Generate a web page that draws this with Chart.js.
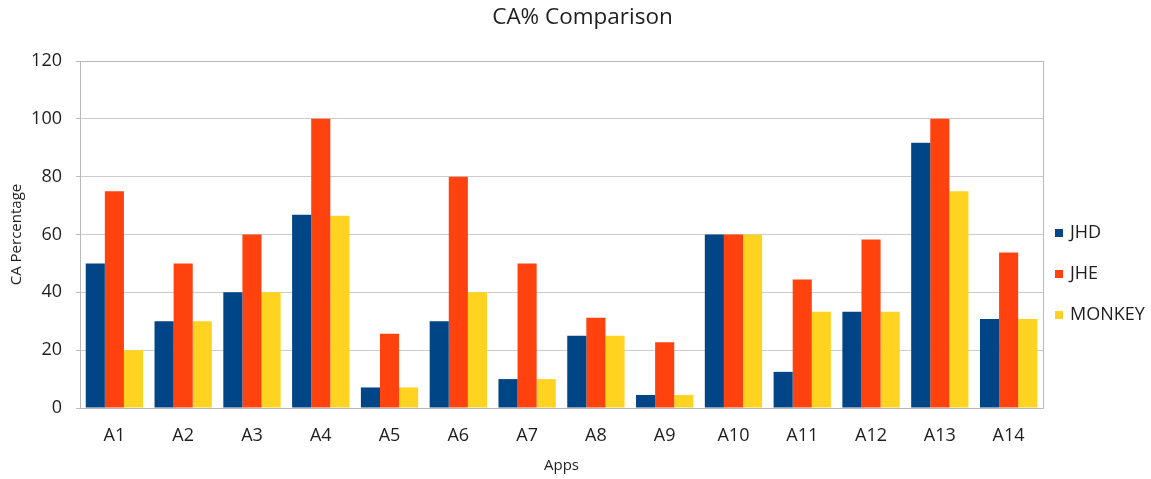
<!DOCTYPE html>
<html>
<head>
<meta charset="utf-8">
<title>CA% Comparison</title>
<script src="https://cdn.jsdelivr.net/npm/chart.js@4/dist/chart.umd.min.js"></script>
<style>
  html, body { margin: 0; padding: 0; background: #ffffff; }
  #wrap { width: 1151px; height: 479px; }
</style>
</head>
<body>
<div id="wrap"><canvas id="chart" width="1151" height="479"></canvas></div>
<script>
// Apps on the x axis
const apps = ['A1', 'A2', 'A3', 'A4', 'A5', 'A6', 'A7', 'A8', 'A9', 'A10', 'A11', 'A12', 'A13', 'A14'];

// CA percentage per tool
const jhd    = [50, 30, 40, 66.8, 7.1, 30, 10, 25, 4.5, 60, 12.5, 33.3, 91.7, 30.8];
const jhe    = [75, 50, 60, 100, 25.7, 80, 50, 31.2, 22.7, 60, 44.4, 58.3, 100, 53.8];
const monkey = [20, 30, 40, 66.5, 7.1, 40, 10, 25, 4.5, 60, 33.3, 33.3, 75, 30.8];

const seriesNames = ['JHD', 'JHE', 'MONKEY'];
const seriesColors = ['#004586', '#ff420e', '#ffd320'];

// y axis ticks
const yTicks = [0, 20, 40, 60, 80, 100, 120];

const FONT = '"Open Sans", "DejaVu Sans", sans-serif';
const TEXT = '#1e1e1e';

// frame around the plot area (top and right edges included)
const plotFrame = {
  id: 'plotFrame',
  beforeDatasetsDraw(chart) {
    const { ctx, chartArea: a } = chart;
    ctx.save();
    ctx.strokeStyle = '#b8b8b8';
    ctx.lineWidth = 1;
    ctx.strokeRect(Math.round(a.left) + 0.5, Math.round(a.top) + 0.5,
                   Math.round(a.right - a.left), Math.round(a.bottom - a.top));
    ctx.restore();
  }
};

// legend at the right, one entry per dataset
const sideLegend = {
  id: 'sideLegend',
  afterDraw(chart) {
    const { ctx } = chart;
    const x = chart.chartArea.right + 12;
    const y0 = 232;
    const step = 41;
    ctx.save();
    ctx.font = '18px ' + FONT;
    ctx.textBaseline = 'middle';
    ctx.textAlign = 'left';
    chart.data.datasets.forEach((ds, i) => {
      const y = y0 + i * step;
      ctx.fillStyle = ds.backgroundColor;
      ctx.fillRect(x, y - 3, 8, 8);
      ctx.fillStyle = TEXT;
      ctx.fillText(ds.label, x + 15, y + 1);
    });
    ctx.restore();
  }
};

const datasets = [jhd, jhe, monkey].map((values, i) => ({
  label: seriesNames[i],
  data: values,
  backgroundColor: seriesColors[i],
  borderWidth: 0,
  barPercentage: 1.0,
  categoryPercentage: 0.833
}));

new Chart(document.getElementById('chart'), {
  type: 'bar',
  data: { labels: apps, datasets },
  options: {
    responsive: false,
    animation: false,
    layout: { padding: { left: 14, right: 0, top: 0, bottom: 0 } },
    plugins: {
      legend: { display: false },
      tooltip: { enabled: false },
      title: {
        display: true,
        text: 'CA% Comparison',
        color: TEXT,
        font: { family: FONT, size: 22.5, weight: 'normal' },
        padding: { top: 4, bottom: 30 }
      }
    },
    scales: {
      x: {
        grid: { display: false, drawTicks: false },
        border: { display: true, color: '#b8b8b8' },
        ticks: {
          color: TEXT,
          font: { family: FONT, size: 18 },
          padding: 17,
          maxRotation: 0
        },
        title: {
          display: true,
          text: 'Apps',
          color: TEXT,
          font: { family: FONT, size: 15 },
          padding: { top: 0, bottom: 4 }
        },
        afterFit(scale) { scale.height = 71; }
      },
      y: {
        min: 0,
        max: 120,
        afterBuildTicks(scale) { scale.ticks = yTicks.map(v => ({ value: v })); },
        grid: { color: '#cccccc', tickLength: 4, tickColor: '#b8b8b8' },
        border: { display: true, color: '#b8b8b8' },
        ticks: {
          color: TEXT,
          font: { family: FONT, size: 18 },
          padding: 14
        },
        title: {
          display: true,
          text: 'CA Percentage',
          color: TEXT,
          font: { family: FONT, size: 15 },
          padding: { top: -6, bottom: 0 }
        },
        afterFit(scale) { scale.width = 66; }
      },
      // empty right-hand axis that keeps room for the legend
      legendSpace: {
        type: 'linear',
        position: 'right',
        min: 0,
        max: 120,
        grid: { drawOnChartArea: false, drawTicks: false },
        border: { display: false },
        ticks: { display: false },
        afterFit(scale) { scale.width = 108; }
      }
    }
  },
  plugins: [plotFrame, sideLegend]
});
</script>
</body>
</html>
